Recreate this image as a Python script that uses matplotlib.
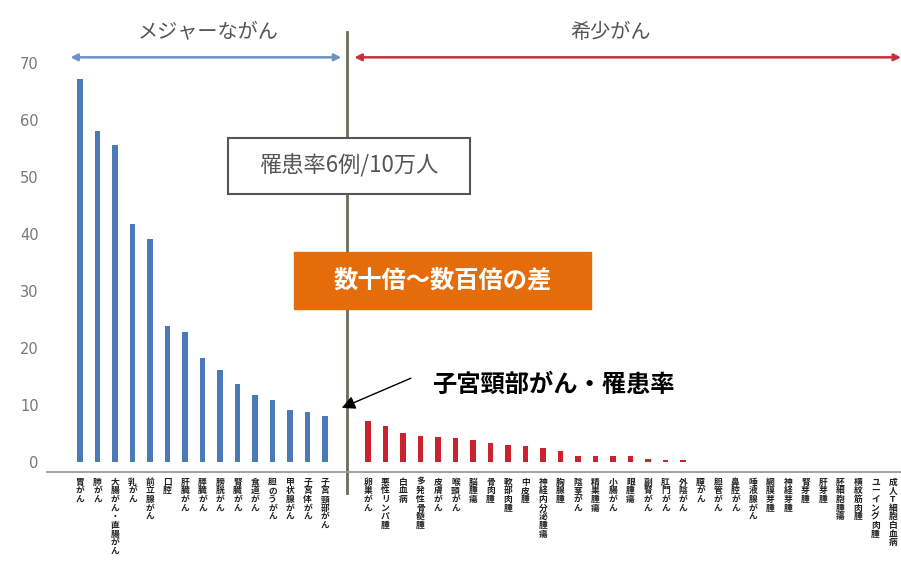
import numpy as np
import matplotlib
matplotlib.use("Agg")
import matplotlib.pyplot as plt
from matplotlib.patches import Rectangle

plt.rcParams['font.family'] = ['Noto Sans CJK JP', 'DejaVu Sans']

# ---- data ----
major_labels = ["胃がん", "肺がん", "大腸がん・直腸がん", "乳がん", "前立腺がん", "口腔",
                "肝臓がん", "膵臓がん", "膀胱がん", "腎臓がん", "食道がん", "胆のうがん",
                "甲状腺がん", "子宮体がん", "子宮頸部がん"]
major_values = [67.2, 58.1, 55.7, 41.8, 39.2, 23.8, 22.8, 18.2, 16.1, 13.7, 11.7, 10.9,
                9.1, 8.8, 8.1]

rare_labels = ["卵巣がん", "悪性リンパ腫", "白血病", "多発性骨髄腫", "皮膚がん", "喉頭がん",
               "脳腫瘍", "骨肉腫", "軟部肉腫", "中皮腫", "神経内分泌腫瘍", "胸腺腫",
               "陰茎がん", "精巣腫瘍", "小腸がん", "眼腫瘍", "副腎がん", "肛門がん",
               "外陰がん", "膣がん", "胆管がん", "鼻腔がん", "唾液腺がん", "網膜芽腫",
               "神経芽腫", "腎芽腫", "肝芽腫", "胚細胞腫瘍", "横紋筋肉腫", "ユーイング肉腫",
               "成人T細胞白血病"]
rare_values = [7.2, 6.3, 5.1, 4.6, 4.4, 4.2, 3.9, 3.3, 3.0, 2.8, 2.4, 1.9, 1.1, 1.1,
               1.0, 1.0, 0.6, 0.35, 0.3, 0, 0, 0, 0, 0, 0, 0, 0, 0, 0, 0, 0]

yticks = [0, 10, 20, 30, 40, 50, 60, 70]

# ---- layout ----
W, H = 901, 578
fig = plt.figure(figsize=(W / 100, H / 100), dpi=100)
ax = fig.add_axes([47 / W, (H - 472) / H, (W - 47) / W, 472 / H])

gap = 1.45
x_major = np.arange(len(major_values))
x_rare = len(major_values) + gap + np.arange(len(rare_values))
ax.bar(x_major, major_values, width=0.3, color="#4a7bb7", zorder=2)
ax.bar(x_rare, rare_values, width=0.3, color="#cc2230", zorder=2)

ax.set_xlim(-1.89, -1.89 + (W - 47) / 17.5)
ax.set_ylim(-1.75, -1.75 + 472 / 5.7)

ax.set_yticks(yticks)
ax.set_yticklabels([str(v) for v in yticks], color="#777777", fontsize=10.5,
                   family="DejaVu Sans")
ax.tick_params(axis="y", length=0, pad=6)

all_x = np.concatenate([x_major, x_rare])
all_labels = major_labels + rare_labels
ax.set_xticks(all_x)
ax.set_xticklabels(["\n".join(s) for s in all_labels], fontsize=6.3, color="#222222",
                   fontweight="bold", va="top", linespacing=0.95)
ax.tick_params(axis="x", length=0, pad=4)

for s in ["top", "right", "left"]:
    ax.spines[s].set_visible(False)
ax.spines["bottom"].set_color("#9a9a9a")
ax.spines["bottom"].set_linewidth(1.3)

# vertical divider
vx = (x_major[-1] + x_rare[0]) / 2
ax.plot([vx, vx], [-5.4, 75.4], color="#6b6e5a", lw=2, clip_on=False, zorder=1)

# section arrows
ax.annotate("", xy=(-0.55, 71), xytext=(vx - 0.3, 71),
            arrowprops=dict(arrowstyle="<|-|>", color="#6c93c4", lw=1.8,
                            mutation_scale=10, shrinkA=0, shrinkB=0))
ax.annotate("", xy=(vx + 0.45, 71), xytext=(1.0, 71),
            xycoords="data", textcoords=("axes fraction", "data"),
            arrowprops=dict(arrowstyle="<|-|>", color="#c8303a", lw=1.8,
                            mutation_scale=10, shrinkA=0, shrinkB=0))
ax.text((-0.55 + vx) / 2, 75.3, "メジャーながん", ha="center", va="center",
        fontsize=14.5, color="#555555")
ax.text(30.3, 75.3, "希少がん", ha="center", va="center", fontsize=14.5, color="#555555")

# boxes
ax.add_patch(Rectangle((8.46, 47.0), 13.83, 9.84, fc="white", ec="#555555", lw=1.5,
                       zorder=4))
ax.text(15.37, 51.9, "罹患率6例/10万人", ha="center", va="center", fontsize=16,
        color="#555555", zorder=5)
ax.add_patch(Rectangle((12.25, 26.84), 16.97, 10.0, fc="#e46c0a", ec="#e46c0a", lw=1,
                       zorder=4))
ax.text(20.74, 31.9, "数十倍～数百倍の差", ha="center", va="center", fontsize=17.5,
        color="white", fontweight="bold", zorder=5)

# annotation
ax.annotate("", xy=(x_major[-1] + 0.95, 9.5), xytext=(18.9, 14.7),
            arrowprops=dict(arrowstyle="-|>", color="black", lw=1,
                            mutation_scale=20, shrinkA=0, shrinkB=0))
ax.text(20.1, 13.5, "子宮頸部がん・罹患率", ha="left", va="center", fontsize=17.5,
        fontweight="bold", color="black")

fig.savefig("out.png", dpi=100)
